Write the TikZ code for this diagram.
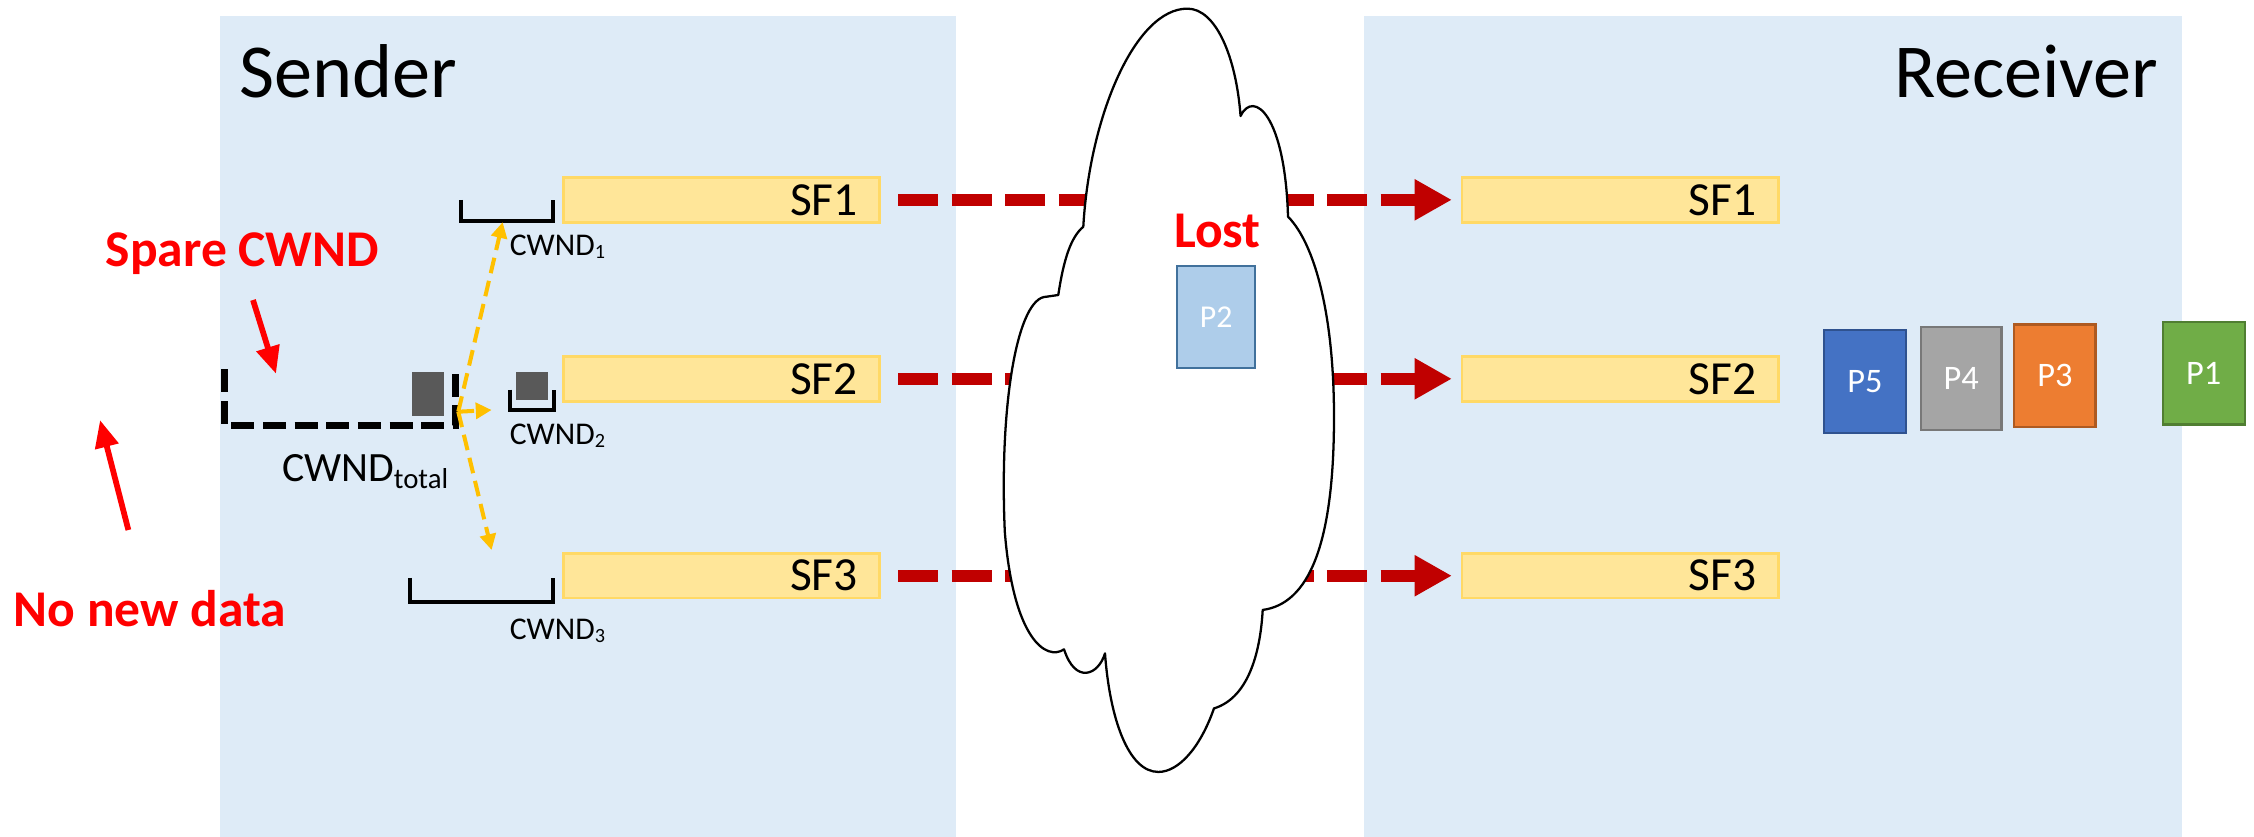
\documentclass[tikz,border=0pt]{standalone}
\usepackage{fontspec}
\setmainfont{Carlito}
\usetikzlibrary{arrows.meta}

\definecolor{panelblue}{HTML}{DEEBF7}
\definecolor{sffill}{HTML}{FFE699}
\definecolor{sfedge}{HTML}{FFD966}
\definecolor{linkred}{HTML}{C00000}
\definecolor{notered}{HTML}{FF0000}
\definecolor{cwndgold}{HTML}{FFC000}
\definecolor{blockgray}{HTML}{595959}
\definecolor{ptwofill}{HTML}{AECDEA}
\definecolor{ptwoedge}{HTML}{41719C}
\definecolor{pfivefill}{HTML}{4472C4}
\definecolor{pfiveedge}{HTML}{2F528F}
\definecolor{pfourfill}{HTML}{A5A5A5}
\definecolor{pfouredge}{HTML}{787878}
\definecolor{pthreefill}{HTML}{ED7D31}
\definecolor{pthreeedge}{HTML}{AE5A21}
\definecolor{ponefill}{HTML}{70AD47}
\definecolor{poneedge}{HTML}{507E32}

\begin{document}
\begin{tikzpicture}[x=0.1mm, y=-0.1mm,
  panel/.style={fill=panelblue, draw=none, inner sep=0pt, outer sep=0pt, anchor=north west},
  title/.style={inner sep=0pt, font=\fontsize{15.1}{15.1}\selectfont},
  sfbar/.style={draw=sfedge, fill=sffill, line width=0.2mm, minimum width=22mm,
    minimum height=3.1mm, text width=19mm, align=right, inner xsep=1.5mm, inner ysep=0pt,
    font=\fontsize{9.4}{9.4}\selectfont},
  link/.style={draw=linkred, line width=0.85mm, dash pattern=on 2.8mm off 0.93mm,
    shorten <=1.2mm, shorten >=0.6mm, -{Triangle[length=2.6mm,width=2.7mm]}},
  cloudline/.style={draw=black, fill=white, line width=0.45pt, line join=round},
  note/.style={inner sep=0pt, text=notered, font=\bfseries\fontsize{10.2}{10.2}\selectfont},
  notearrow/.style={draw=notered, line width=0.4mm, -{Triangle[length=1.9mm,width=1.6mm]}},
  pkt/.style={line width=0.15mm, inner sep=0pt, text=white, font=\fontsize{6.8}{6.8}\selectfont},
  bracket/.style={draw=black, line width=0.28mm, line join=miter},
  totalbracket/.style={draw=black, line width=0.5mm, dash pattern=on 1.6mm off 0.6mm, line join=miter},
  block/.style={fill=blockgray, draw=none, inner sep=0pt},
  share/.style={draw=cwndgold, line width=0.28mm, dash pattern=on 1.1mm off 0.55mm,
    -{Triangle[length=1.1mm,width=1.1mm]}},
  cwndlabel/.style={inner sep=0pt, font=\fontsize{6.26}{6.26}\selectfont},
  totallabel/.style={inner sep=0pt, font=\fontsize{8.25}{8.25}\selectfont}
]
\useasboundingbox (0,0) rectangle (1568,582);

% sender and receiver areas
\node[panel, minimum width=51.2mm, minimum height=57.1mm] (sender) at (153,11) {};
\node[panel, minimum width=56.9mm, minimum height=57.1mm] (receiver) at (949,11) {};
\node[title, anchor=base west] (sendertitle) at (166,68) {Sender};
\node[title, anchor=base east] (receivertitle) at (1502,68) {Receiver};

% subflow buffers
\node[sfbar] (s1) at (501.7,139) {SF1};
\node[sfbar] (s2) at (501.7,263.5) {SF2};
\node[sfbar] (s3) at (501.7,400.5) {SF3};
\node[sfbar] (r1) at (1127,139) {SF1};
\node[sfbar] (r2) at (1127,263.5) {SF2};
\node[sfbar] (r3) at (1127,400.5) {SF3};

% subflow paths through the network
\draw[link] (s1.east) -- (r1.west);
\draw[link] (s2.east) -- (r2.west);
\draw[link] (s3.east) -- (r3.west);

% the network cloud
\draw[cloudline] (753.6,157.7)
  .. controls (758,80) and (790,6) .. (826,6)
  .. controls (846,6) and (860,40) .. (863,80.7)
  .. controls (872,62) and (894,80) .. (896,150.7)
  .. controls (915,170) and (928,220) .. (928,290)
  .. controls (928,380) and (910,420) .. (878.4,424.3)
  .. controls (877,450) and (870,485) .. (844.5,492.8)
  .. controls (835,520) and (820,537) .. (805.8,537)
  .. controls (785,537) and (772,500) .. (768.7,454.5)
  .. controls (764,470) and (748,476) .. (740.2,451.7)
  .. controls (728,460) and (705,445) .. (699,370)
  .. controls (695,280) and (708,206.4) .. (728,206.4)
  -- (736.2,205.2)
  .. controls (740,180) and (745,165) .. (753.6,157.7) -- cycle;

% lost packet
\node[note, anchor=base west] (lost) at (816,172.5) {Lost};
\node[pkt, fill=ptwofill, draw=ptwoedge, minimum width=5.45mm, minimum height=7.1mm,
  font=\fontsize{6.3}{6.3}\selectfont] (p2) at (846,220.6) {P2};

% packets at the receiver
\node[pkt, fill=pfivefill, draw=pfiveedge, minimum width=5.7mm, minimum height=7.15mm] (p5) at (1297.3,265.5) {P5};
\node[pkt, fill=pfourfill, draw=pfouredge, minimum width=5.6mm, minimum height=7.15mm] (p4) at (1364.3,263.5) {P4};
\node[pkt, fill=pthreefill, draw=pthreeedge, minimum width=5.65mm, minimum height=7.15mm] (p3) at (1429.5,261.5) {P3};
\node[pkt, fill=ponefill, draw=poneedge, minimum width=5.7mm, minimum height=7.15mm] (p1) at (1533,259.6) {P1};

% congestion windows
\draw[bracket] (320.5,139) -- (320.5,153.5) -- (384.5,153.5) -- (384.5,139);
\draw[bracket] (355,271) -- (355,285) -- (385.5,285) -- (385.5,271);
\draw[bracket] (285,402) -- (285,418.5) -- (384.5,418.5) -- (384.5,402);
\draw[totalbracket] (156,257) -- (156,296) -- (317,296) -- (317,257);
\node[block, minimum width=2.22mm, minimum height=3.04mm] (blocktotal) at (297.9,274.2) {};
\node[block, minimum width=2.25mm, minimum height=1.9mm] (blocktwo) at (369.95,268.5) {};

% window shares
\coordinate (split) at (318.8,286.4);
\coordinate (w1) at (349.7,154.5);
\coordinate (w2) at (342,285.2);
\coordinate (w3) at (342,382.6);
\draw[share] (split) -- (w1);
\draw[share] (split) -- (w2);
\draw[share] (split) -- (w3);

% window labels
\node[cwndlabel, anchor=base west] (c1) at (354,177.5) {CWND\raisebox{-0.65pt}{\fontsize{4}{4}\selectfont 1}};
\node[cwndlabel, anchor=base west] (c2) at (354,309) {CWND\raisebox{-0.65pt}{\fontsize{4}{4}\selectfont 2}};
\node[cwndlabel, anchor=base west] (c3) at (354,445) {CWND\raisebox{-0.65pt}{\fontsize{4}{4}\selectfont 3}};
\node[totallabel, anchor=base west] (ctotal) at (195.5,335) {CWND\raisebox{-1.3pt}{\fontsize{5.7}{5.7}\selectfont total}};

% annotations
\node[note, anchor=base west] (spare) at (73,185.5) {Spare CWND};
\node[note, anchor=base west] (nodata) at (9,436) {No new data};
\coordinate (spareA) at (176,208.7);
\coordinate (spareB) at (192,260);
\coordinate (nodataA) at (89.3,368.7);
\coordinate (nodataB) at (69.6,292.2);
\draw[notearrow] (spareA) -- (spareB);
\draw[notearrow] (nodataA) -- (nodataB);
\end{tikzpicture}
\end{document}
